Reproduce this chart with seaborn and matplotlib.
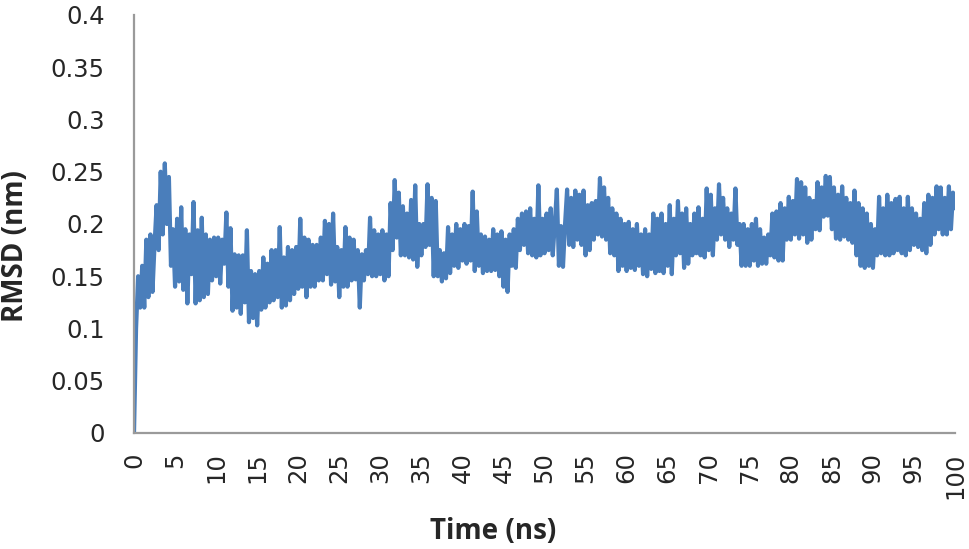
import numpy as np
import pandas as pd
import seaborn as sns
import matplotlib.pyplot as plt

# RMSD values, every 0.25 ns (one line = 5 ns)
rmsd_nm = [
    0.0, 0.10, 0.15, 0.12, 0.16, 0.12, 0.185, 0.13, 0.19, 0.135, 0.18, 0.218, 0.175, 0.25, 0.19, 0.258, 0.20, 0.245, 0.16, 0.195,
    0.14, 0.205, 0.145, 0.216, 0.137, 0.195, 0.124, 0.19, 0.152, 0.221, 0.124, 0.194, 0.127, 0.206, 0.13, 0.19, 0.133, 0.185, 0.146, 0.187,
    0.15, 0.187, 0.143, 0.185, 0.162, 0.211, 0.14, 0.196, 0.117, 0.171, 0.12, 0.17, 0.114, 0.17, 0.125, 0.194, 0.106, 0.155, 0.11, 0.152,
    0.103, 0.155, 0.118, 0.168, 0.12, 0.162, 0.125, 0.175, 0.127, 0.175, 0.13, 0.197, 0.12, 0.168, 0.122, 0.178, 0.127, 0.175, 0.133, 0.178,
    0.138, 0.205, 0.14, 0.187, 0.13, 0.185, 0.14, 0.18, 0.14, 0.18, 0.146, 0.187, 0.146, 0.203, 0.152, 0.20, 0.142, 0.21, 0.145, 0.178,
    0.13, 0.175, 0.14, 0.197, 0.14, 0.187, 0.146, 0.185, 0.147, 0.175, 0.12, 0.171, 0.146, 0.175, 0.152, 0.206, 0.15, 0.194, 0.15, 0.19,
    0.152, 0.194, 0.146, 0.19, 0.15, 0.22, 0.175, 0.242, 0.187, 0.23, 0.17, 0.217, 0.17, 0.21, 0.168, 0.223, 0.166, 0.237, 0.159, 0.20,
    0.17, 0.20, 0.178, 0.238, 0.18, 0.225, 0.15, 0.222, 0.15, 0.175, 0.145, 0.172, 0.148, 0.197, 0.153, 0.19, 0.16, 0.20, 0.158, 0.195,
    0.165, 0.20, 0.162, 0.198, 0.165, 0.231, 0.155, 0.212, 0.16, 0.19, 0.153, 0.188, 0.155, 0.185, 0.155, 0.195, 0.156, 0.19, 0.15, 0.193,
    0.14, 0.185, 0.135, 0.19, 0.16, 0.195, 0.158, 0.205, 0.175, 0.21, 0.18, 0.212, 0.172, 0.215, 0.17, 0.205, 0.168, 0.237, 0.17, 0.205,
    0.172, 0.21, 0.175, 0.215, 0.17, 0.20, 0.233, 0.16, 0.198, 0.159, 0.20, 0.233, 0.18, 0.225, 0.178, 0.232, 0.185, 0.228, 0.18, 0.232,
    0.17, 0.218, 0.175, 0.22, 0.185, 0.222, 0.19, 0.244, 0.188, 0.235, 0.185, 0.225, 0.172, 0.215, 0.17, 0.21, 0.155, 0.205, 0.16, 0.20,
    0.155, 0.202, 0.158, 0.195, 0.156, 0.20, 0.16, 0.19, 0.152, 0.195, 0.15, 0.19, 0.157, 0.21, 0.153, 0.205, 0.155, 0.21, 0.153, 0.20,
    0.16, 0.218, 0.152, 0.205, 0.17, 0.222, 0.172, 0.21, 0.158, 0.215, 0.162, 0.20, 0.17, 0.21, 0.172, 0.216, 0.17, 0.205, 0.168, 0.234,
    0.175, 0.228, 0.17, 0.215, 0.185, 0.238, 0.19, 0.225, 0.185, 0.215, 0.178, 0.21, 0.185, 0.234, 0.18, 0.20, 0.16, 0.20, 0.16, 0.195,
    0.16, 0.20, 0.165, 0.205, 0.16, 0.195, 0.162, 0.187, 0.162, 0.19, 0.17, 0.21, 0.168, 0.212, 0.165, 0.22, 0.165, 0.215, 0.185, 0.226,
    0.185, 0.222, 0.19, 0.243, 0.186, 0.24, 0.19, 0.235, 0.182, 0.225, 0.185, 0.222, 0.195, 0.24, 0.194, 0.235, 0.207, 0.246, 0.208, 0.245,
    0.195, 0.235, 0.186, 0.228, 0.185, 0.236, 0.188, 0.225, 0.185, 0.22, 0.182, 0.232, 0.17, 0.22, 0.16, 0.215, 0.158, 0.21, 0.16, 0.20,
    0.158, 0.195, 0.17, 0.226, 0.172, 0.215, 0.17, 0.228, 0.17, 0.22, 0.172, 0.224, 0.175, 0.226, 0.172, 0.215, 0.17, 0.226, 0.175, 0.215,
    0.18, 0.21, 0.178, 0.205, 0.175, 0.22, 0.172, 0.228, 0.18, 0.225, 0.19, 0.236, 0.195, 0.235, 0.19, 0.225, 0.19, 0.236, 0.195, 0.23,
    0.215,
]
time_step_ns = 0.25
time_ns = np.arange(len(rmsd_nm)) * time_step_ns

x_ticks = list(range(0, 101, 5))
y_ticks = [0, 0.05, 0.1, 0.15, 0.2, 0.25, 0.3, 0.35, 0.4]
y_labels = ['0', '0.05', '0.1', '0.15', '0.2', '0.25', '0.3', '0.35', '0.4']

df = pd.DataFrame({'Time (ns)': time_ns, 'RMSD (nm)': rmsd_nm})

sns.set_style('white')
plt.rcParams['font.family'] = ['DejaVu Sans']

fig = plt.figure(figsize=(9.69, 5.49), dpi=100)
ax = fig.add_axes([0.1383, 0.2113, 0.8473, 0.7614])

sns.lineplot(data=df, x='Time (ns)', y='RMSD (nm)', ax=ax, color='#4a7ebb',
             linewidth=3.0, estimator=None)

ax.set_xlim(0, 100)
ax.set_ylim(0, 0.4)
ax.set_xticks(x_ticks)
ax.set_xticklabels([str(t) for t in x_ticks], rotation=90, fontsize=17.5)
ax.set_yticks(y_ticks)
ax.set_yticklabels(y_labels, fontsize=17.5)

ax.tick_params(axis='x', length=0, pad=14)
ax.tick_params(axis='y', length=7, width=1.5, color='#8c8c8c', direction='out', pad=14)
for lbl in ax.get_xticklabels():
    lbl.set_verticalalignment('top')

for side in ['top', 'right']:
    ax.spines[side].set_visible(False)
for side in ['left', 'bottom']:
    ax.spines[side].set_color('#9a9a9a')
    ax.spines[side].set_linewidth(1.6)

label_font = dict(family=['Open Sans', 'DejaVu Sans'], size=20, weight='bold')
ax.set_xlabel('Time (ns)', fontdict=label_font)
ax.set_ylabel('RMSD (nm)', fontdict=label_font)
ax.xaxis.set_label_coords(0.437, -0.2)
ax.yaxis.set_label_coords(-0.127, 0.447)

fig.savefig('out.png', dpi=100)
